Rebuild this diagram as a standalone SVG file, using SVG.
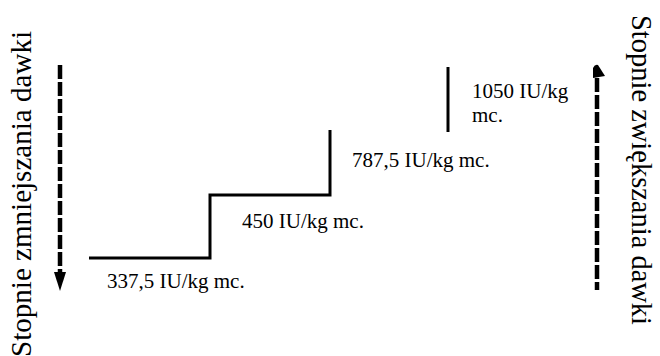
<svg xmlns="http://www.w3.org/2000/svg" width="660" height="356" viewBox="0 0 660 356">
<style>
text{font-family:"Liberation Serif","Times New Roman",serif;fill:#000}
.lbl{font-size:21px}
.side{font-size:29px}
.step{stroke:#000;stroke-width:3;fill:none}
.dash{stroke:#000;stroke-width:4.5;stroke-dasharray:14 3;fill:none}
</style>
<rect width="660" height="356" fill="#fff"/>
<g id="connectors">
<path class="step" d="M89,258 H210 V195 H330 V130"/>
<path class="step" d="M448,67 V132"/>
<path class="dash" d="M60,65 V274"/>
<polygon points="54,272 66,272 60,291" fill="#000"/>
<path class="dash" d="M597,78 V290"/>
<path d="M593,78 V68 Q595,64 598,65 L605,76 Z" fill="#000"/>
</g>
<g id="side-left"><text class="side" transform="translate(31,357) rotate(-90)" textLength="326" lengthAdjust="spacingAndGlyphs">Stopnie zmniejszania dawki</text></g>
<g id="side-right"><text class="side" transform="translate(632,15) rotate(90)" textLength="310" lengthAdjust="spacingAndGlyphs">Stopnie zwiększania dawki</text></g>
<g id="dose-1"><text class="lbl" x="107" y="288">337,5 IU/kg mc.</text></g>
<g id="dose-2"><text class="lbl" x="242" y="228">450 IU/kg mc.</text></g>
<g id="dose-3"><text class="lbl" x="352" y="167">787,5 IU/kg mc.</text></g>
<g id="dose-4"><text class="lbl" x="472" y="98">1050 IU/kg</text><text class="lbl" x="472" y="122">mc.</text></g>
</svg>
